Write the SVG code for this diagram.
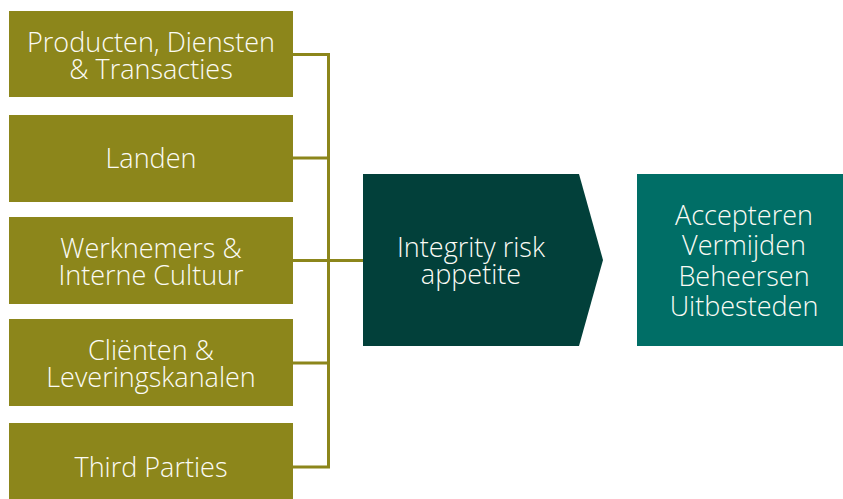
<svg xmlns="http://www.w3.org/2000/svg" width="843" height="499" viewBox="0 0 843 499">
<style>
.src{fill:#8c861b}
.t{font-family:"Open Sans","Liberation Sans",sans-serif;font-size:27px;font-weight:300;fill:#fbfbf5;text-anchor:middle}
.con{stroke:#8c861b;stroke-width:3;fill:none}
</style>
<rect width="843" height="499" fill="#ffffff"/>
<g id="connectors">
<path class="con" d="M293 54.5H328.5V467H293M293 158H328.5M293 363H328.5M293 260.5H363"/>
</g>
<g id="n1"><rect class="src" x="9" y="11" width="284" height="86"/>
<text class="t" x="151" y="52">Producten, Diensten</text><text class="t" x="151" y="79">&amp; Transacties</text></g>
<g id="n2"><rect class="src" x="9" y="115" width="284" height="87"/>
<text class="t" x="151" y="168">Landen</text></g>
<g id="n3"><rect class="src" x="9" y="217" width="284" height="87"/>
<text class="t" x="151" y="258">Werknemers &amp;</text><text class="t" x="151" y="285">Interne Cultuur</text></g>
<g id="n4"><rect class="src" x="9" y="319" width="284" height="87"/>
<text class="t" x="151" y="360">Cliënten &amp;</text><text class="t" x="151" y="387">Leveringskanalen</text></g>
<g id="n5"><rect class="src" x="9" y="423" width="284" height="87"/>
<text class="t" x="151" y="477">Third Parties</text></g>
<g id="appetite"><polygon points="363,174 579,174 603,260 579,346 363,346" fill="#02403a"/>
<text class="t" x="471" y="257">Integrity risk</text><text class="t" x="471" y="284">appetite</text></g>
<g id="responses"><rect x="637" y="174" width="206" height="172" fill="#006e66"/>
<text class="t" x="744" y="225">Accepteren</text><text class="t" x="744" y="255">Vermijden</text><text class="t" x="744" y="286">Beheersen</text><text class="t" x="744" y="316">Uitbesteden</text></g>
</svg>
